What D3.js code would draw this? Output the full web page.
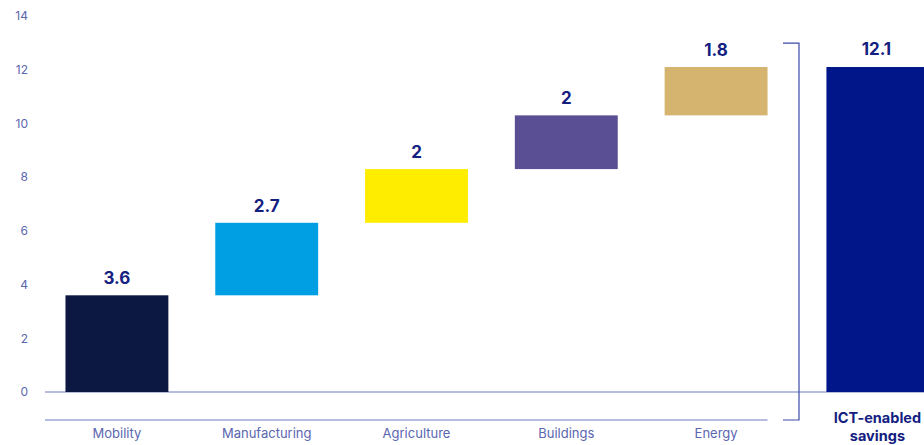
<!DOCTYPE html>
<html>
<head>
<meta charset="utf-8">
<script src="https://cdn.jsdelivr.net/npm/d3@7"></script>
<style>
  html, body { margin: 0; padding: 0; background: #fff; }
  svg { display: block; font-family: Inter, "Noto Sans", sans-serif; }
</style>
</head>
<body>
<svg id="chart" width="924" height="445"></svg>
<script>
// Waterfall of ICT-enabled savings by sector
const categories = ["Mobility", "Manufacturing", "Agriculture", "Buildings", "Energy"];
const values = [3.6, 2.7, 2, 2, 1.8];
const colors = ["#0c1742", "#009fe3", "#ffed00", "#5a4f95", "#d4b46e"];
const totalLabel = ["ICT-enabled", "savings"];
const totalValue = 12.1;
const totalColor = "#001689";
const yTicks = [0, 2, 4, 6, 8, 10, 12, 14];

const svg = d3.select("#chart");
const axisColor = "#6e79c6";
const tickColor = "#5a66b0";
const valueColor = "#13207f";

const y = d3.scaleLinear().domain([0, 14]).range([392, 16]);
const x = d3.scaleBand().domain(categories).range([40, 793]).paddingInner(0.313).paddingOuter(0.17);

// cumulative starts/ends
let acc = 0;
const steps = categories.map((c, i) => {
  const start = acc;
  acc += values[i];
  return { cat: c, start, end: acc, value: values[i], color: colors[i] };
});

// y tick labels
const yAxis = d3.axisLeft(y).tickValues(yTicks).tickSize(0).tickPadding(0);
const yg = svg.append("g").attr("transform", "translate(28,0)").call(yAxis);
yg.select(".domain").remove();
yg.selectAll("text")
  .attr("fill", tickColor)
  .style("font-size", "12px")
  .style("font-family", "Inter, 'Noto Sans', sans-serif");

// baseline at zero
svg.append("line")
  .attr("x1", 45).attr("x2", 924)
  .attr("y1", y(0)).attr("y2", y(0))
  .attr("stroke", axisColor).attr("stroke-width", 1.2);

// lower category axis line
const lowerY = 420;
svg.append("line")
  .attr("x1", 45).attr("x2", x("Energy") + x.bandwidth())
  .attr("y1", lowerY).attr("y2", lowerY)
  .attr("stroke", axisColor).attr("stroke-width", 1.2);

// floating step bars
svg.selectAll("rect.step").data(steps).join("rect")
  .attr("class", "step")
  .attr("x", d => x(d.cat))
  .attr("width", x.bandwidth())
  .attr("y", d => y(d.end))
  .attr("height", d => y(d.start) - y(d.end))
  .attr("fill", d => d.color);

svg.selectAll("text.val").data(steps).join("text")
  .attr("class", "val")
  .attr("x", d => x(d.cat) + x.bandwidth() / 2)
  .attr("y", d => y(d.end) - 11)
  .attr("text-anchor", "middle")
  .attr("fill", valueColor)
  .style("font-size", "17px")
  .style("font-weight", "700")
  .text(d => d.value);

svg.selectAll("text.cat").data(steps).join("text")
  .attr("class", "cat")
  .attr("x", d => x(d.cat) + x.bandwidth() / 2)
  .attr("y", 438)
  .attr("text-anchor", "middle")
  .attr("fill", tickColor)
  .style("font-size", "13px")
  .text(d => d.cat);

// total bar
const totalX = x("Energy") + x.step() + 12;
svg.append("rect")
  .attr("x", totalX)
  .attr("width", x.bandwidth())
  .attr("y", y(totalValue))
  .attr("height", y(0) - y(totalValue))
  .attr("fill", totalColor);

svg.append("text")
  .attr("x", totalX + 50)
  .attr("y", y(totalValue) - 12)
  .attr("text-anchor", "middle")
  .attr("fill", valueColor)
  .style("font-size", "17px")
  .style("font-weight", "700")
  .text(totalValue);

// two-line label under the total bar
totalLabel.forEach((t, i) => {
  svg.append("text")
    .attr("x", totalX + 51)
    .attr("y", 423 + i * 18)
    .attr("text-anchor", "middle")
    .attr("fill", valueColor)
    .style("font-size", "14.5px")
    .style("font-weight", "700")
    .text(t);
});

// bracket grouping the sectors
const bx = 799, bTop = y(totalValue) - 24;
svg.append("path")
  .attr("d", `M${bx - 16},${bTop}H${bx}V${lowerY}H${bx - 16}`)
  .attr("fill", "none")
  .attr("stroke", "#3c4aa8")
  .attr("stroke-width", 1.2);
</script>
</body>
</html>
